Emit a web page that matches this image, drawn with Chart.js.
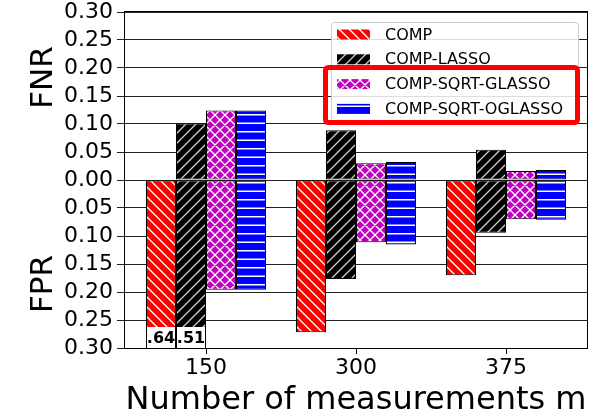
<!DOCTYPE html>
<html>
<head>
<meta charset="utf-8">
<script src="https://cdn.jsdelivr.net/npm/chart.js@4.4.1/dist/chart.umd.min.js"></script>
<style>
  html, body { margin: 0; padding: 0; background: #fff; }
  canvas { display: block; }
</style>
</head>
<body>
<canvas id="chart" width="599" height="416"></canvas>
<script>
// data
const categories = ['150', '300', '375'];
const methods = ['COMP', 'COMP-LASSO', 'COMP-SQRT-GLASSO', 'COMP-SQRT-OGLASSO'];

// FNR (drawn upward)
const fnrComp    = [0.000, 0.000, 0.000];
const fnrLasso   = [0.101, 0.089, 0.054];
const fnrGlasso  = [0.124, 0.030, 0.016];
const fnrOglasso = [0.124, 0.032, 0.018];

// FPR (drawn downward, first two go past the axis limit)
const fprComp    = [0.64, 0.272, 0.170];
const fprLasso   = [0.51, 0.177, 0.094];
const fprGlasso  = [0.196, 0.111, 0.070];
const fprOglasso = [0.196, 0.115, 0.071];

const yTickValues = [-0.30, -0.25, -0.20, -0.15, -0.10, -0.05, 0, 0.05, 0.10, 0.15, 0.20, 0.25, 0.30];
const Y_MIN = -0.30, Y_MAX = 0.30;

const FONT = 'DejaVu Sans';
const canvas = document.getElementById('chart');
const ctx = canvas.getContext('2d');

// ── hatch patterns (matplotlib style) ─────────────────────────────────────
function makeHatch(bg, fg, kind, lw, s) {
    const step = s / 2;
    const c = document.createElement('canvas');
    c.width = s; c.height = s;
    const g = c.getContext('2d');
    g.fillStyle = bg;
    g.fillRect(0, 0, s, s);
    g.strokeStyle = fg;
    g.lineWidth = lw;
    g.beginPath();
    if (kind === '-') {
        for (let y = step / 2; y < s; y += step) { g.moveTo(0, y); g.lineTo(s, y); }
    }
    if (kind === '/' || kind === 'x') {
        for (let k = 0; k <= 2 * s; k += step) { g.moveTo(-1, k + 1); g.lineTo(k + 1, -1); }
    }
    if (kind === '\\' || kind === 'x') {
        for (let k = -s; k <= s; k += step) { g.moveTo(-1, k - 1); g.lineTo(s + 1, k + s + 1); }
    }
    g.stroke();
    return ctx.createPattern(c, 'repeat');
}

const fills = [
    makeHatch('#ff0000', '#ffffff', '\\', 1.3, 20),
    makeHatch('#000000', '#d0d0d0', '/', 1.3, 20),
    makeHatch('#bf00bf', '#ffffff', 'x', 1.3, 20),
    makeHatch('#0000ff', '#ffffff', '-', 1.4, 17)
];

const fnrSeries = [fnrComp, fnrLasso, fnrGlasso, fnrOglasso];
const fprSeries = [fprComp, fprLasso, fprGlasso, fprOglasso];

function toPoints(vals, sign) {
    return categories.map((c, i) => ({ x: i, y: sign * vals[i] }));
}

const datasets = [];
methods.forEach((m, k) => {
    const common = {
        stack: m,
        backgroundColor: fills[k],
        borderColor: '#000',
        borderWidth: 1,
        borderSkipped: false,
        categoryPercentage: 0.8,
        barPercentage: 1.0
    };
    datasets.push(Object.assign({ label: m, data: toPoints(fnrSeries[k], 1) }, common));
    datasets.push(Object.assign({ label: m + ' FPR', data: toPoints(fprSeries[k], -1) }, common));
});

// ── extra drawing: frame, legend, clipped-value labels, FNR/FPR ───────────
const decor = {
    id: 'decor',
    afterDatasetsDraw(chart) {
        const c = chart.ctx, ca = chart.chartArea;
        c.save();
        chart.data.datasets.forEach((ds, di) => {
            const meta = chart.getDatasetMeta(di);
            ds.data.forEach((p, i) => {
                if (p.y >= Y_MIN) return;
                const bar = meta.data[i];
                const x0 = bar.x - bar.width / 2;
                c.fillStyle = '#fff';
                c.fillRect(x0 + 1, ca.bottom - 21, bar.width - 2, 21);
                c.fillStyle = '#000';
                c.font = 'bold 16px "' + FONT + '"';
                c.textAlign = 'center';
                c.textBaseline = 'alphabetic';
                c.fillText(Math.abs(p.y).toFixed(2).replace(/^0/, ''), bar.x, ca.bottom - 5);
            });
        });
        c.restore();
    },
    afterDraw(chart) {
        const c = chart.ctx, ca = chart.chartArea;
        c.save();
        // plot frame
        c.strokeStyle = '#000';
        c.lineWidth = 1;
        c.strokeRect(Math.round(ca.left) - 0.5, Math.round(ca.top) - 0.5,
                     Math.round(ca.right - ca.left) + 1, Math.round(ca.bottom - ca.top) + 1);

        // legend box
        c.fillStyle = 'rgba(255,255,255,0.85)';
        c.strokeStyle = '#cccccc';
        c.beginPath();
        c.roundRect(331.5, 22.5, 247, 100, 3);
        c.fill();
        c.stroke();
        c.font = '16px "' + FONT + '"';
        c.textAlign = 'left';
        c.textBaseline = 'middle';
        methods.forEach((m, k) => {
            const y = 34.5 + k * 24.8;
            c.fillStyle = fills[k];
            c.fillRect(337, y - 5, 33, 10);
            c.fillStyle = '#000';
            c.fillText(m, 385, y + 1);
        });

        // red highlight round the two SQRT entries
        c.strokeStyle = '#ff0000';
        c.lineWidth = 5;
        c.beginPath();
        c.roundRect(325.5, 67.5, 252, 55, 3);
        c.stroke();

        // FNR / FPR axis labels
        c.fillStyle = '#000';
        c.font = '31px "' + FONT + '"';
        c.textAlign = 'center';
        c.textBaseline = 'alphabetic';
        [['FNR', 77.5], ['FPR', 284]].forEach(([t, y]) => {
            c.save();
            c.translate(52, y);
            c.rotate(-Math.PI / 2);
            c.fillText(t, 0, 0);
            c.restore();
        });
        c.restore();
    }
};

new Chart(ctx, {
    type: 'bar',
    data: { datasets: datasets },
    options: {
        responsive: false,
        devicePixelRatio: 1,
        animation: false,
        layout: { padding: { left: 0, top: 12, right: 12, bottom: 0 } },
        plugins: {
            legend: { display: false },
            tooltip: { enabled: false }
        },
        scales: {
            x: {
                type: 'linear',
                min: -0.54,
                max: 2.54,
                offset: false,
                afterBuildTicks: (scale) => { scale.ticks = categories.map((c, i) => ({ value: i })); },
                afterFit: (scale) => { scale.height = 68; scale.paddingLeft = 0; scale.paddingRight = 0; },
                grid: { display: true, drawOnChartArea: false, drawTicks: true, tickLength: 6, color: '#000', offset: false },
                border: { display: false },
                ticks: {
                    color: '#000',
                    padding: 1,
                    autoSkip: false,
                    maxRotation: 0,
                    font: { family: FONT, size: 22 },
                    callback: (v) => categories[v]
                },
                title: {
                    display: true,
                    text: 'Number of measurements m',
                    color: '#000',
                    font: { family: FONT, size: 32 },
                    padding: { top: 0, bottom: -4 }
                }
            },
            y: {
                min: Y_MIN,
                max: Y_MAX,
                afterBuildTicks: (scale) => { scale.ticks = yTickValues.map(v => ({ value: v })); },
                afterFit: (scale) => { scale.width = 125; scale.paddingTop = 0; scale.paddingBottom = 0; },
                grid: { color: '#222', lineWidth: 1, tickLength: 8 },
                border: { display: false },
                ticks: {
                    color: '#000',
                    padding: 4,
                    autoSkip: false,
                    font: { family: FONT, size: 22 },
                    callback: (v) => Math.abs(v).toFixed(2)
                }
            }
        }
    },
    plugins: [decor]
});
</script>
</body>
</html>
